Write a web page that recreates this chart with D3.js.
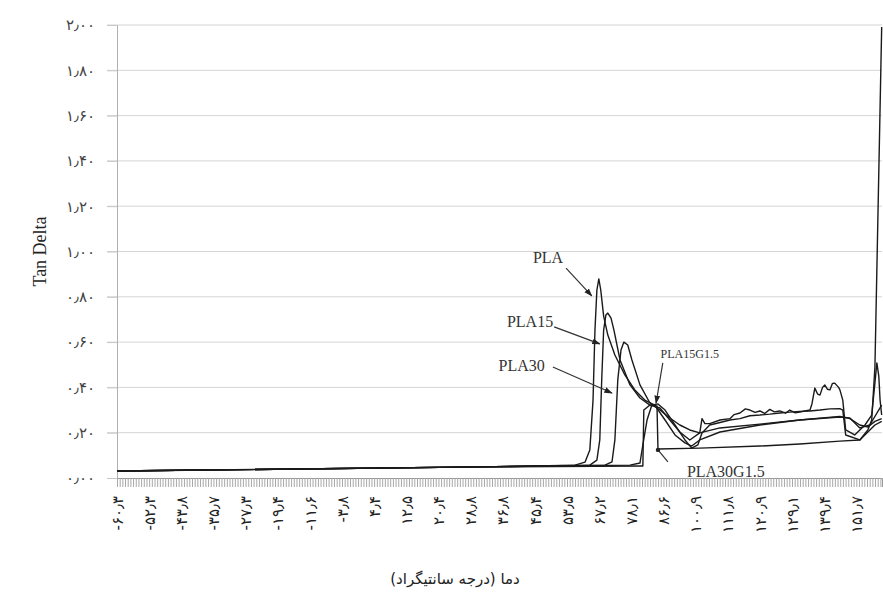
<!DOCTYPE html>
<html><head><meta charset="utf-8">
<script src="https://cdnjs.cloudflare.com/ajax/libs/d3/7.8.5/d3.min.js"></script>
<style>html,body{margin:0;padding:0;background:#fff;}svg{display:block;}</style>
</head><body>
<svg id="chart" width="883" height="596"></svg>
<script>
// ---- data ----
const xTickLabels = ["-۶۰٫۳","-۵۲٫۳","-۴۳٫۸","-۳۵٫۷","-۲۷٫۳","-۱۹٫۴","-۱۱٫۶","-۳٫۸","۴٫۴","۱۲٫۵","۲۰٫۴","۲۸٫۸","۳۶٫۸","۴۵٫۴","۵۳٫۵","۶۷٫۲","۷۸٫۱","۸۶٫۶","۱۰۰٫۹","۱۱۱٫۸","۱۲۰٫۹","۱۲۹٫۱","۱۳۹٫۴","۱۵۱٫۷"];
const yTickValues = [0,0.2,0.4,0.6,0.8,1.0,1.2,1.4,1.6,1.8,2.0];
const yTickLabels = ["۰٫۰۰","۰٫۲۰","۰٫۴۰","۰٫۶۰","۰٫۸۰","۱٫۰۰","۱٫۲۰","۱٫۴۰","۱٫۶۰","۱٫۸۰","۲٫۰۰"];
const xExtent = 23.8;           // category positions (label index units)
const minorPerLabel = 12;       // data categories between two labels

// [category position, tan delta]
const PLA = [[0,0.031],[5.69,0.040],[11.29,0.049],[14.25,0.057],[14.56,0.070],[14.71,0.124],[14.81,0.344],[14.87,0.653],[14.93,0.830],[14.99,0.879],[15.05,0.830],[15.14,0.715],[15.27,0.631],[15.49,0.543],[15.80,0.455],[16.11,0.389],[16.42,0.344],[16.73,0.322],[17.05,0.256],[17.36,0.190],[17.67,0.155],[17.88,0.141],[18.13,0.168],[18.76,0.203],[20.00,0.234],[21.24,0.256],[22.49,0.272],[22.80,0.262],[23.11,0.234],[23.36,0.225],[23.58,0.250],[23.79,0.262]];
const PLA15 = [[0,0.031],[11.29,0.049],[14.71,0.057],[14.93,0.079],[15.02,0.168],[15.08,0.433],[15.14,0.653],[15.21,0.720],[15.27,0.728],[15.37,0.706],[15.46,0.653],[15.65,0.521],[15.96,0.411],[16.27,0.353],[16.58,0.322],[16.89,0.309],[17.20,0.256],[17.51,0.203],[17.82,0.168],[18.13,0.199],[18.20,0.262],[18.29,0.240],[18.44,0.240],[18.76,0.256],[19.07,0.262],[19.20,0.280],[19.38,0.287],[19.55,0.305],[19.69,0.300],[19.85,0.290],[20.00,0.296],[20.15,0.285],[20.31,0.303],[20.45,0.292],[20.62,0.296],[20.80,0.286],[20.93,0.300],[21.10,0.288],[21.24,0.291],[21.40,0.296],[21.56,0.300],[21.62,0.327],[21.71,0.397],[21.80,0.370],[21.87,0.366],[21.95,0.400],[22.02,0.411],[22.10,0.392],[22.18,0.389],[22.26,0.418],[22.33,0.419],[22.45,0.400],[22.49,0.389],[22.58,0.344],[22.67,0.212],[22.95,0.190],[23.27,0.234],[23.48,0.278],[23.58,0.420],[23.64,0.508],[23.70,0.450],[23.74,0.344],[23.79,0.278]];
const PLA30 = [[0,0.031],[11.29,0.049],[15.18,0.057],[15.40,0.071],[15.49,0.168],[15.58,0.433],[15.68,0.565],[15.77,0.600],[15.89,0.587],[16.02,0.521],[16.27,0.411],[16.58,0.331],[16.89,0.300],[17.20,0.265],[17.51,0.234],[17.82,0.212],[18.13,0.199],[18.76,0.221],[20.00,0.238],[21.24,0.256],[22.49,0.269],[22.80,0.265],[23.11,0.221],[23.42,0.234],[23.79,0.322]];
const PLA15G15 = [[0,0.031],[11.29,0.049],[15.96,0.057],[16.27,0.066],[16.36,0.146],[16.49,0.256],[16.64,0.322],[16.83,0.327],[17.05,0.300],[17.36,0.234],[17.67,0.168],[17.88,0.132],[18.07,0.146],[18.20,0.199],[18.29,0.212],[18.44,0.234],[18.76,0.245],[19.07,0.256],[19.38,0.262],[19.69,0.275],[20.00,0.278],[20.31,0.282],[20.62,0.287],[20.93,0.291],[21.24,0.294],[21.56,0.296],[21.87,0.300],[22.18,0.305],[22.49,0.306],[22.58,0.300],[22.67,0.190],[23.11,0.168],[23.58,0.234],[23.79,0.250]];
const PLA30G15 = [[0,0.031],[11.29,0.049],[16.27,0.053],[16.36,0.053],[16.39,0.300],[16.58,0.322],[16.80,0.318],[16.83,0.128],[18.13,0.132],[20.00,0.141],[21.24,0.150],[22.49,0.163],[23.11,0.168],[23.36,0.212],[23.48,0.256],[23.58,0.490],[23.79,1.991]];
const seriesNames = ["PLA","PLA15","PLA30","PLA15G1.5","PLA30G1.5"];
const seriesData = [PLA, PLA15, PLA30, PLA15G15, PLA30G15];

// annotations: label, text anchor point, arrow start, arrow tip (all in data space)
const annotationLabels = ["PLA","PLA15","PLA30","PLA15G1.5","PLA30G1.5"];
const annotationText = [[13.41,0.949],[12.85,0.667],[12.59,0.471],[17.82,0.530],[18.94,0.004]];
const annotationFrom = [[13.97,0.927],[13.60,0.667],[13.56,0.490],[16.98,0.508],[17.14,0.071]];
const annotationTip = [[14.77,0.804],[15.02,0.592],[15.40,0.375],[16.77,0.330],[16.83,0.124]];
const annotationArrow = [true,true,true,true,false];

// ---- drawing ----
const svg = d3.select("#chart");
const margin = {left:117, right:1, top:25, bottom:118};
const W = 883, H = 596;
const x = d3.scaleLinear().domain([0, xExtent]).range([margin.left, W - margin.right]);
const y = d3.scaleLinear().domain([0, 2]).range([H - margin.bottom, margin.top]);

svg.append("defs").append("marker")
  .attr("id","arrow").attr("viewBox","0 0 10 10").attr("refX",9).attr("refY",5)
  .attr("markerWidth",7).attr("markerHeight",7).attr("orient","auto")
  .append("path").attr("d","M0,1.5L10,5L0,8.5Z").attr("fill","#222");

// grid
svg.append("g").selectAll("line").data(yTickValues.filter(d=>d>0)).join("line")
  .attr("x1", margin.left - 10).attr("x2", W - margin.right)
  .attr("y1", d=>y(d)).attr("y2", d=>y(d))
  .attr("stroke","#d4d4d4").attr("stroke-width",1);

// y axis
const yAxis = d3.axisLeft(y).tickValues(yTickValues).tickSize(10)
  .tickFormat((d,i)=>yTickLabels[i]);
const gy = svg.append("g").attr("transform",`translate(${margin.left},0)`).call(yAxis);
gy.select(".domain").attr("stroke","#b0b0b0");
gy.selectAll(".tick line").attr("stroke","#c8c8c8");
gy.selectAll(".tick text").attr("x",-22).attr("font-family","DejaVu Sans, sans-serif")
  .attr("font-size",15).attr("fill","#444").attr("letter-spacing","3px");

// x axis: dense category ticks
const minorTicks = d3.range(0, xExtent*minorPerLabel + 1).map(i=>i/minorPerLabel);
const xAxisMinor = d3.axisBottom(x).tickValues(minorTicks).tickSize(9).tickFormat("");
const gxm = svg.append("g").attr("transform",`translate(0,${y(0)})`).call(xAxisMinor);
gxm.select(".domain").attr("stroke","#999");
gxm.selectAll(".tick line").attr("stroke","#a8a8a8").attr("stroke-width",1);

const labelPos = d3.range(xTickLabels.length);
const xAxis = d3.axisBottom(x).tickValues(labelPos).tickSize(0).tickFormat((d,i)=>xTickLabels[i]);
const gx = svg.append("g").attr("transform",`translate(0,${y(0)})`).call(xAxis);
gx.select(".domain").remove();
gx.selectAll(".tick text")
  .attr("transform","rotate(-90)")
  .attr("x",-18).attr("y",0).attr("dy","0.35em")
  .attr("text-anchor","end")
  .attr("font-family","DejaVu Sans, sans-serif").attr("font-size",15)
  .attr("fill","#222").attr("letter-spacing","2.5px")
  .style("direction","ltr").style("unicode-bidi","plaintext");

// curves
const line = d3.line().x(d=>x(d[0])).y(d=>y(d[1]));
svg.append("g").selectAll("path").data(seriesData).join("path")
  .attr("d", line).attr("fill","none").attr("stroke","#1a1a1a")
  .attr("stroke-width",1.4).attr("stroke-linejoin","round");

// annotations
const ann = svg.append("g");
annotationLabels.forEach((lab,i)=>{
  ann.append("line")
    .attr("x1",x(annotationFrom[i][0])).attr("y1",y(annotationFrom[i][1]))
    .attr("x2",x(annotationTip[i][0])).attr("y2",y(annotationTip[i][1]))
    .attr("stroke","#333").attr("stroke-width",1.2)
    .attr("marker-end", annotationArrow[i] ? "url(#arrow)" : null);
  if(!annotationArrow[i]){
    ann.append("circle").attr("cx",x(annotationTip[i][0])).attr("cy",y(annotationTip[i][1]))
      .attr("r",2.2).attr("fill","#222");
  }
  ann.append("text")
    .attr("x",x(annotationText[i][0])).attr("y",y(annotationText[i][1]))
    .attr("text-anchor","middle")
    .attr("font-family","Liberation Serif, serif")
    .attr("font-size", lab==="PLA15G1.5" ? 12 : 16)
    .attr("fill","#333").text(lab);
});

// axis titles
svg.append("text").attr("transform",`translate(46,${(y(0)+y(2))/2}) rotate(-90)`)
  .attr("text-anchor","middle").attr("font-family","Liberation Serif, serif")
  .attr("font-size",18).attr("fill","#222").text("Tan Delta");
svg.append("text").attr("x",455).attr("y",584).attr("text-anchor","middle")
  .attr("direction","rtl").style("direction","rtl")
  .attr("font-family","DejaVu Sans, sans-serif").attr("font-size",15)
  .attr("fill","#222").text("دما (درجه سانتیگراد)");
</script>
</body></html>
